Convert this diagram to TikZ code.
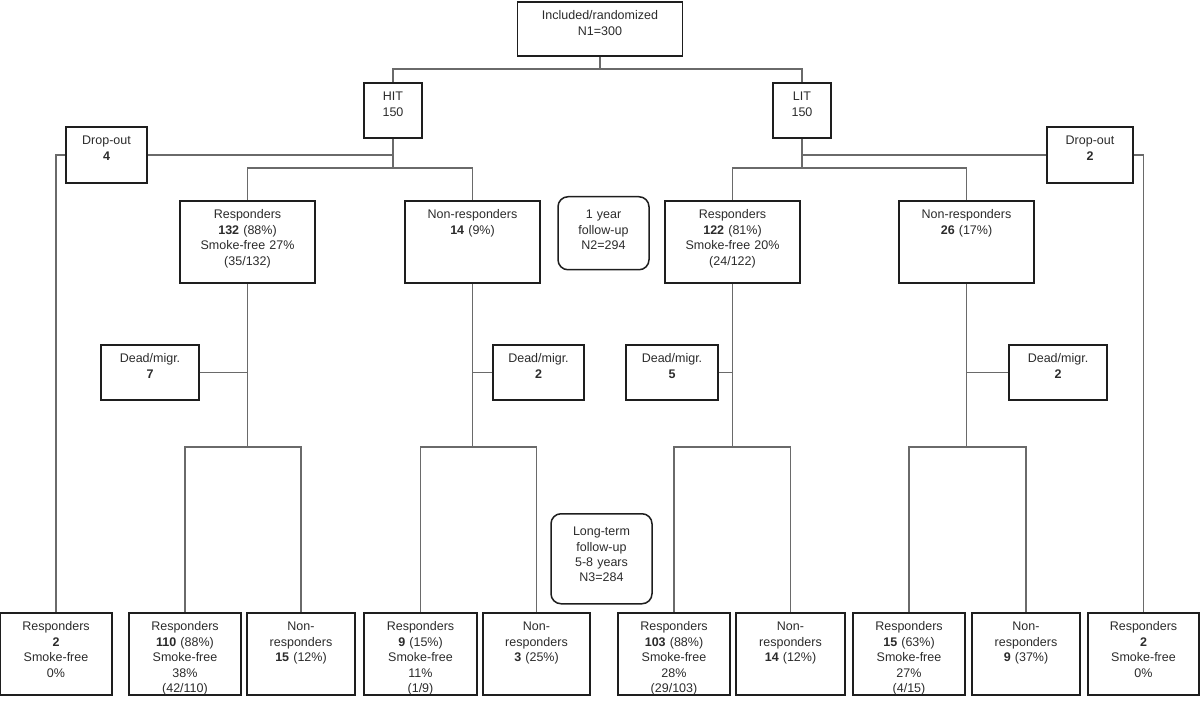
\documentclass[tikz,border=0pt]{standalone}
\usepackage{fontspec}
\setmainfont{Liberation Sans}
\definecolor{flink}{HTML}{2B2B2B}
\definecolor{flline}{HTML}{1E1E1E}
\definecolor{flconn}{HTML}{6A6A6A}
\tikzset{
  fl/.style={anchor=north, align=center, inner sep=0pt, text=flink,
             font=\fontsize{12.5}{15.4}\selectfont},
  fl box/.style={fl, draw=flline, line width=1.8pt, text height=18pt},
  fl round/.style={fl, draw=flline, line width=1.5pt, rounded corners=10pt, text height=22pt},
  fl size/.style 2 args={text width=#1pt, text depth=#2pt},
  fl conn/.style={draw=flconn, line width=1.3pt},
}
\begin{document}
\begin{tikzpicture}[x=1pt, y=-1pt]
  \useasboundingbox (0,0) rectangle (1200,703);
  \node[fl box, fl size={165}{36}] (incl) at (600,1) {Included/randomized\\N1=300};
  \node[fl box, fl size={58}{37}] (hit) at (393,82) {HIT\\150};
  \node[fl box, fl size={58}{37}] (lit) at (802,82) {LIT\\150};
  \node[fl box, fl size={81}{38}] (dropH) at (106.5,126) {Drop-out\\\textbf{4}};
  \node[fl box, fl size={86}{38}] (dropL) at (1090,126) {Drop-out\\\textbf{2}};
  \node[fl box, fl size={135}{64}] (respH) at (247.5,200) {Responders\\\textbf{132} (88\%)\\Smoke-free 27\%\\(35/132)};
  \node[fl box, fl size={135}{64}] (nonH) at (472.5,200) {Non-responders\\\textbf{14} (9\%)};
  \node[fl box, fl size={135}{64}] (respL) at (732.5,200) {Responders\\\textbf{122} (81\%)\\Smoke-free 20\%\\(24/122)};
  \node[fl box, fl size={135}{64}] (nonL) at (966.5,200) {Non-responders\\\textbf{26} (17\%)};
  \node[fl round, fl size={91}{51}] (year) at (603.5,196) {1 year\\follow-up\\N2=294};
  \node[fl box, fl size={98}{37}] (deadRH) at (150,344) {Dead/migr.\\\textbf{7}};
  \node[fl box, fl size={91}{37}] (deadNH) at (538.5,344) {Dead/migr.\\\textbf{2}};
  \node[fl box, fl size={92}{37}] (deadRL) at (672,344) {Dead/migr.\\\textbf{5}};
  \node[fl box, fl size={98}{37}] (deadNL) at (1058,344) {Dead/migr.\\\textbf{2}};
  \node[fl round, fl size={101}{68}] (long) at (601.5,513) {Long-term\\follow-up\\5-8 years\\N3=284};
  \node[fl box, fl size={112}{64}] (lt1) at (56,612) {Responders\\\textbf{2}\\Smoke-free\\0\%};
  \node[fl box, fl size={112}{64}] (lt2) at (185,612) {Responders\\\textbf{110} (88\%)\\Smoke-free\\38\%\\(42/110)};
  \node[fl box, fl size={108}{64}] (lt3) at (301,612) {Non-\\responders\\\textbf{15} (12\%)};
  \node[fl box, fl size={113}{64}] (lt4) at (420.5,612) {Responders\\\textbf{9} (15\%)\\Smoke-free\\11\%\\(1/9)};
  \node[fl box, fl size={107}{64}] (lt5) at (536.5,612) {Non-\\responders\\\textbf{3} (25\%)};
  \node[fl box, fl size={112}{64}] (lt6) at (674,612) {Responders\\\textbf{103} (88\%)\\Smoke-free\\28\%\\(29/103)};
  \node[fl box, fl size={109}{64}] (lt7) at (790.5,612) {Non-\\responders\\\textbf{14} (12\%)};
  \node[fl box, fl size={112}{64}] (lt8) at (909,612) {Responders\\\textbf{15} (63\%)\\Smoke-free\\27\%\\(4/15)};
  \node[fl box, fl size={108}{64}] (lt9) at (1026,612) {Non-\\responders\\\textbf{9} (37\%)};
  \node[fl box, fl size={111}{64}] (lt10) at (1143.5,612) {Responders\\\textbf{2}\\Smoke-free\\0\%};
  \coordinate (jTop) at (600,69);
  \coordinate (jH) at (393,168);
  \coordinate (jL) at (802,168);
  \coordinate (jY) at (0,447);
  \draw[fl conn] (incl.south) -- (jTop);
  \draw[fl conn] (hit.north) |- (jTop) -| (lit.north);
  \draw[fl conn] (hit.south) -- (jH);
  \draw[fl conn] (lit.south) -- (jL);
  \draw[fl conn] (respH.north) |- (jH) -| (nonH.north);
  \draw[fl conn] (respL.north) |- (jL) -| (nonL.north);
  \draw[fl conn] (dropH) -- (dropH -| hit.south);
  \draw[fl conn] (dropL) -- (dropL -| lit.south);
  \draw[fl conn] (dropH.west) -| (lt1.north);
  \draw[fl conn] (dropL.east) -| (lt10.north);
  \foreach \g/\d/\l/\r in {respH/deadRH/lt2/lt3, nonH/deadNH/lt4/lt5, respL/deadRL/lt6/lt7, nonL/deadNL/lt8/lt9} {
    \coordinate (k\g) at (\g.south |- jY);
    \draw[fl conn] (\g.south) -- (k\g);
    \draw[fl conn] (\d) -- (\d -| \g.south);
    \draw[fl conn] (\l.north) |- (k\g) -| (\r.north);
  }
\end{tikzpicture}
\end{document}
